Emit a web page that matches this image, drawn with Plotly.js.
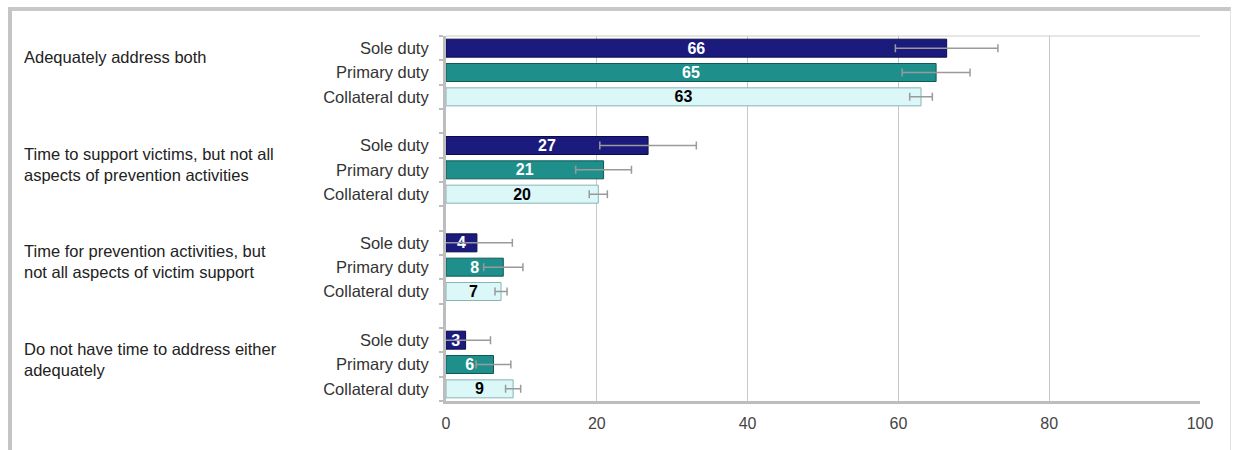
<!DOCTYPE html>
<html>
<head>
<meta charset="utf-8">
<script src="https://cdn.plot.ly/plotly-3.0.1.min.js"></script>
<style>
  html, body { margin: 0; padding: 0; background: #ffffff; }
  #frame { position: absolute; left: 8px; top: 7px; width: 1223px; height: 470px;
           border-left: 4px solid #c4c4c4; border-top: 4px solid #c8c8c8; border-right: 1px solid #e2e2e2;
           box-sizing: border-box; }
  #chart { position: absolute; left: 0; top: 0; width: 1238px; height: 450px; }
</style>
</head>
<body>
<div id="frame"></div>
<div id="chart"></div>
<script>
// ---- data ----
const groups = [
  "Adequately address both",
  "Time to support victims, but not all<br>aspects of prevention activities",
  "Time for prevention activities, but<br>not all aspects of victim support",
  "Do not have time to address either<br>adequately"
];
const duties = ["Sole duty", "Primary duty", "Collateral duty"];
const sole = [66.4, 26.8, 4.1, 2.6];
const soleErr = [6.8, 6.4, 4.7, 3.3];
const primary = [65.0, 20.9, 7.6, 6.3];
const primaryErr = [4.5, 3.7, 2.6, 2.3];
const collateral = [63.0, 20.2, 7.3, 8.9];
const collateralErr = [1.5, 1.2, 0.8, 1.0];
const xTicks = [0, 20, 40, 60, 80, 100];

// ---- layout helpers ----
const slotsPerGroup = duties.length + 1;
function pos(d) { return groups.map((g, gi) => gi * slotsPerGroup + d); }
const tickPos = [], tickText = [];
groups.forEach((g, gi) => duties.forEach((d, di) => { tickPos.push(gi * slotsPerGroup + di); tickText.push(d); }));
const lastSlot = tickPos[tickPos.length - 1];

const FONT = "Liberation Sans, Arial, sans-serif";
const styles = [
  { fill: "#1b1b7e", line: "#0c0c4a", text: "#ffffff" },
  { fill: "#1f8f8b", line: "#0f5a57", text: "#ffffff" },
  { fill: "#dcf7f7", line: "#86b4b4", text: "#000000" }
];
const series = [sole, primary, collateral];
const errs = [soleErr, primaryErr, collateralErr];

const traces = series.map((vals, i) => ({
  type: "bar",
  orientation: "h",
  name: duties[i],
  x: vals,
  y: pos(i),
  width: 0.74,
  marker: { color: styles[i].fill, line: { color: styles[i].line, width: 1 } },
  error_x: { type: "data", array: errs[i], visible: true, color: "#9a9a9a", thickness: 1.5, width: 4 },
  texttemplate: "%{x:.0f}",
  textposition: "inside",
  textangle: 0,
  insidetextanchor: "middle",
  constraintext: "none",
  cliponaxis: false,
  textfont: { family: FONT, size: 16, color: styles[i].text, weight: "bold" },
  hoverinfo: "x"
}));

const annotations = groups.map((g, gi) => ({
  xref: "paper", yref: "y",
  x: (22 - 446) / 754, y: gi * slotsPerGroup - 0.1,
  xanchor: "left", yanchor: "top", align: "left",
  text: g, showarrow: false,
  font: { family: FONT, size: 16.5, color: "#222222" }
}));

const layout = {
  width: 1238, height: 450,
  margin: { l: 446, r: 38, t: 36, b: 49, pad: 0 },
  paper_bgcolor: "rgba(0,0,0,0)",
  plot_bgcolor: "rgba(0,0,0,0)",
  showlegend: false,
  barmode: "overlay",
  font: { family: FONT, size: 16, color: "#333333" },
  xaxis: {
    range: [0, 100], tickvals: xTicks, ticktext: xTicks.map(String),
    showgrid: true, gridcolor: "#c8c8c8", gridwidth: 1,
    zeroline: false, showline: true, linecolor: "#bdbdbd", linewidth: 3,
    ticks: "", ticklabelstandoff: 6, tickfont: { size: 16, color: "#444444" }
  },
  yaxis: {
    range: [lastSlot + 0.5, -0.5], tickvals: tickPos, ticktext: tickText,
    showgrid: false, zeroline: false, showline: true, linecolor: "#bdbdbd", linewidth: 3,
    ticks: "", ticklabelstandoff: 11, tickfont: { size: 16.5, color: "#333333" },
    minor: { tick0: 0.5, dtick: 1, ticks: "outside", ticklen: 4, tickcolor: "#bdbdbd", tickwidth: 2, showgrid: false }
  },
  shapes: [
    { type: "line", xref: "paper", yref: "paper", x0: 0, x1: 1, y0: 1, y1: 1, line: { color: "#cccccc", width: 1 } }
  ],
  annotations: annotations
};

Plotly.newPlot("chart", traces, layout, { displayModeBar: false, staticPlot: true });
</script>
</body>
</html>
